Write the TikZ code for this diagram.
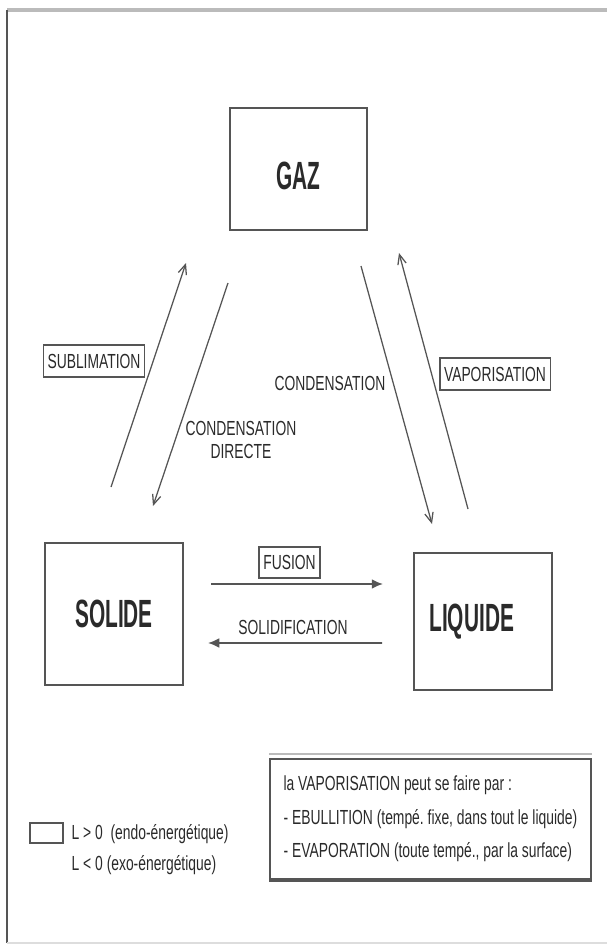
\documentclass[tikz,border=0pt]{standalone}
\usepackage{fontspec}
\setmainfont{Liberation Sans}
\newfontfamily\labelfont{Liberation Sans}[FakeStretch=0.68]
\newfontfamily\statefont{Liberation Sans}[FakeStretch=0.53]
\usetikzlibrary{arrows.meta, calc}
\definecolor{inkgray}{HTML}{2A2A2A}
\definecolor{linegray}{HTML}{555555}
\definecolor{framegray}{HTML}{BBBBBB}
\frenchspacing

\begin{document}
\begin{tikzpicture}[x=0.025cm, y=-0.025cm,
    state/.style={draw=linegray, line width=1.4pt, text=inkgray, inner sep=0pt,
                  font=\statefont\bfseries\fontsize{28}{30}\selectfont},
    tag/.style={text=inkgray, inner sep=1pt, align=center,
                font=\labelfont\fontsize{14.5}{17}\selectfont},
    tagbox/.style={tag, draw=linegray, line width=1pt, inner xsep=3pt, minimum height=0.8cm},
    diag/.style={draw=linegray, line width=0.9pt, -{Straight Barb[length=7pt,width=6pt]}},
    flat/.style={draw=linegray, line width=1.2pt, -{Latex[length=8pt,width=7pt]}}]
    \useasboundingbox (0,0) rectangle (607,945);
    % page frame
    \draw[framegray, line width=2.2pt] (7,10) -- (607,10);
    \draw[linegray, line width=2pt] (7,10) -- (7,943);
    \draw[framegray!50, line width=0.8pt] (7,943) -- (607,943);

    % states
    \node[state, minimum width=3.425cm, minimum height=3.05cm, text height=30pt] (gaz) at (298.5,169) {GAZ};
    \node[state, minimum width=3.45cm, minimum height=3.55cm] (solide) at (114,614) {SOLIDE};
    \node[state, minimum width=3.45cm, minimum height=3.425cm] (liquide) at (483,621.5) {LIQUIDE\hspace*{16pt}};

    % changes of state
    \draw[diag] ($(solide.north)+(-3,-55)$) -- ($(gaz.south west)+(-43,32)$);
    \draw[diag] ($(gaz.south west)+(-1,52)$) -- ($(solide.north)+(39,-36)$);
    \draw[diag] ($(gaz.south east)+(-7,35)$) -- ($(liquide.north)+(-51,-28)$);
    \draw[diag] ($(liquide.north)+(-15,-43)$) -- ($(gaz.south east)+(31,22)$);
    \draw[flat] ($(solide.east)+(27,-30)$) -- ($(liquide.west)+(-30,-37.5)$);
    \draw[flat] ($(liquide.west)+(-31,21.5)$) -- ($(solide.east)+(24,29)$);

    \node[tagbox, minimum width=2.45cm] (sublimation) at (94,361) {SUBLIMATION};
    \node[tag] (directe) at (241,440) {CONDENSATION\\DIRECTE};
    \node[tag] (condensation) at (330,383) {CONDENSATION};
    \node[tagbox, minimum width=2.75cm] (vaporisation) at (495,374) {VAPORISATION};
    \node[tagbox, minimum width=1.425cm, minimum height=0.775cm] (fusion) at (289.5,562.5) {FUSION};
    \node[tag] (solidification) at (293,627) {SOLIDIFICATION};

    % note on vaporisation
    \node[draw=linegray, line width=1.2pt, anchor=north west, minimum width=8.025cm, minimum height=3cm,
          align=left, text=inkgray,
          font=\labelfont\fontsize{14.5}{23.8}\selectfont] (note) at (269,758)
      {la VAPORISATION peut se faire par :\\
       - EBULLITION (tempé. fixe, dans tout le liquide)\\
       - EVAPORATION (toute tempé., par la surface)};
    \draw[linegray, line width=3pt] (note.south west) -- (note.south east);
    \draw[framegray, line width=1.5pt] ($(note.north west)+(0,-4)$) -- ($(note.north east)+(0,-4)$);

    % key
    \node[draw=linegray, line width=1.2pt, minimum width=0.825cm, minimum height=0.5cm, inner sep=0pt] (keybox) at (46.5,833) {};
    \node[tag, anchor=west] (keypos) at (70,834) {L > 0~~(endo-énergétique)};
    \node[tag, anchor=west] (keyneg) at (70,865) {L < 0 (exo-énergétique)};
\end{tikzpicture}
\end{document}
